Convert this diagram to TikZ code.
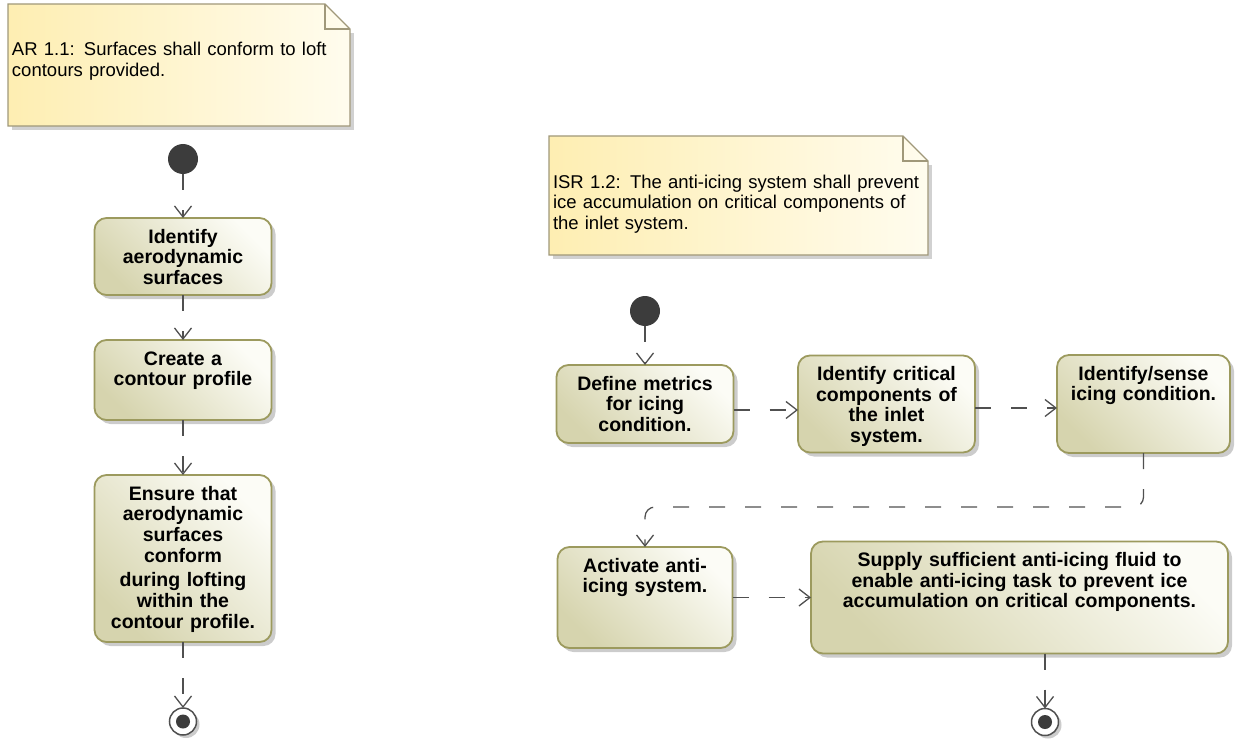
\documentclass[tikz,border=0pt]{standalone}
\usepackage{fontspec}
\setmainfont{Liberation Sans}
\usetikzlibrary{arrows.meta,positioning,shadows,backgrounds}
\definecolor{actleft}{HTML}{D6D4AE}
\definecolor{actright}{HTML}{FCFCF6}
\definecolor{actline}{HTML}{9C9A5E}
\definecolor{noteleft}{HTML}{FEEEB2}
\definecolor{noteright}{HTML}{FFFCEE}
\definecolor{noteline}{HTML}{A0987A}
\definecolor{flowgray}{HTML}{505050}
\definecolor{dotgray}{HTML}{3C3C3C}

\begin{document}
\begin{tikzpicture}[x=1pt, y=-1pt,
  actbox/.style={rectangle, rounded corners=12pt, draw=actline, line width=1.8pt,
    bottom color=actleft, top color=actright, shading angle=-45,
    drop shadow={shadow xshift=4pt, shadow yshift=-4pt, fill=black!40, opacity=.5},
    align=center, font=\bfseries\fontsize{19.5}{20.7}\selectfont,
    text height=17pt, inner xsep=4pt, inner ysep=8pt, outer sep=0pt},
  notebox/.style={anchor=north west, align=left, inner xsep=4pt, inner ysep=4pt,
    text height=48pt, outer sep=0pt, font=\fontsize{18.5}{20.5}\selectfont},
  startdot/.style={circle, fill=dotgray, minimum size=30pt, inner sep=0pt, outer sep=0pt},
  enddot/.style={circle, draw=flowgray, line width=1.5pt, fill=white, minimum size=27pt,
    inner sep=0pt, outer sep=0pt,
    drop shadow={shadow xshift=3pt, shadow yshift=-3pt, fill=black!40, opacity=.5},
    path picture={\fill[dotgray] (path picture bounding box.center) circle (7pt);}},
  flow/.style={draw=flowgray, line width=1.3pt, dash pattern=on 16pt off 20pt,
    -{Straight Barb[length=11pt,width=17pt]}},
]
  \useasboundingbox (0,0) rectangle (1238,746);

  % Notes
  \node[notebox, text width=334pt, text depth=66pt] (arnote) at (8,4)
    {AR 1.1: Surfaces shall conform to loft\\contours provided.};
  \node[notebox, text width=371pt, text depth=63pt] (isrnote) at (549,136)
    {ISR 1.2: The anti-icing system shall prevent\\ice accumulation on critical components of\\the inlet system.};

  \begin{scope}[on background layer]
    \foreach \n in {arnote,isrnote}{
      \fill[black!30, opacity=.6] ([xshift=4pt,yshift=-4pt]\n.south west) rectangle ([xshift=4pt,yshift=-29pt]\n.north east);
      \shadedraw[left color=noteleft, right color=noteright, draw=noteline, line width=1.3pt]
        (\n.north west) -- ([xshift=-25pt]\n.north east) -- ([yshift=-25pt]\n.north east)
        -- (\n.south east) -- (\n.south west) -- cycle;
      \draw[noteline, line width=1.3pt] ([xshift=-25pt]\n.north east) |- ([yshift=-25pt]\n.north east);
    }
  \end{scope}

  % Left activity
  \node[startdot] (start1) at (183,159) {};
  \node[actbox, text width=169pt, text depth=44pt, below=44pt of start1] (identify)
    {Identify\\aerodynamic\\surfaces};
  \node[actbox, text width=169pt, text depth=47pt, below=45pt of identify] (contour)
    {Create a\\contour profile};
  \node[actbox, text width=169pt, text depth=134pt, below=55pt of contour] (ensure)
    {Ensure that\\aerodynamic\\surfaces\\conform\\[4pt]during lofting\\within the\\contour profile.};
  \node[enddot, below=66pt of ensure] (end1) {};

  \draw[flow] (start1) -- (identify);
  \draw[flow] (identify) -- (contour);
  \draw[flow] (contour) -- (ensure);
  \draw[flow] (ensure) -- (end1);

  % Right activity
  \node[startdot] (start2) at (645,311) {};
  \node[actbox, text width=169pt, text depth=45pt, below=39pt of start2] (metrics)
    {Define metrics\\for icing\\condition.};
  \node[actbox, text width=169pt, text depth=64pt, right=64.5pt of metrics] (critical)
    {Identify critical\\components of\\the inlet\\system.};
  \node[actbox, text width=165pt, text depth=65pt, right=82pt of critical] (sense)
    {Identify/sense\\icing condition.};
  \node[actbox, text width=167pt, text depth=68pt, below=104pt of metrics] (activate)
    {Activate anti-\\icing system.};
  \node[actbox, text width=409pt, text depth=79pt, right=78.5pt of activate] (supply)
    {Supply sufficient anti-icing fluid to\\enable anti-icing task to prevent ice\\accumulation on critical components.};
  \node[enddot] (end2) at (1045,722) {};

  \draw[flow] (start2) -- (metrics);
  \draw[flow] ([yshift=-6pt]metrics.east) -- ([yshift=-6pt]metrics.east -| critical.west);
  \draw[flow] ([yshift=-4pt]critical.east) -- ([yshift=-4pt]critical.east -| sense.west);
  \draw[flow, rounded corners=10pt] (sense.south) -- ++(0,54) -| (activate.north);
  \draw[flow] (activate.east) -- (activate.east -| supply.west);
  \draw[flow] (supply.south -| end2) -- (end2);
\end{tikzpicture}
\end{document}
